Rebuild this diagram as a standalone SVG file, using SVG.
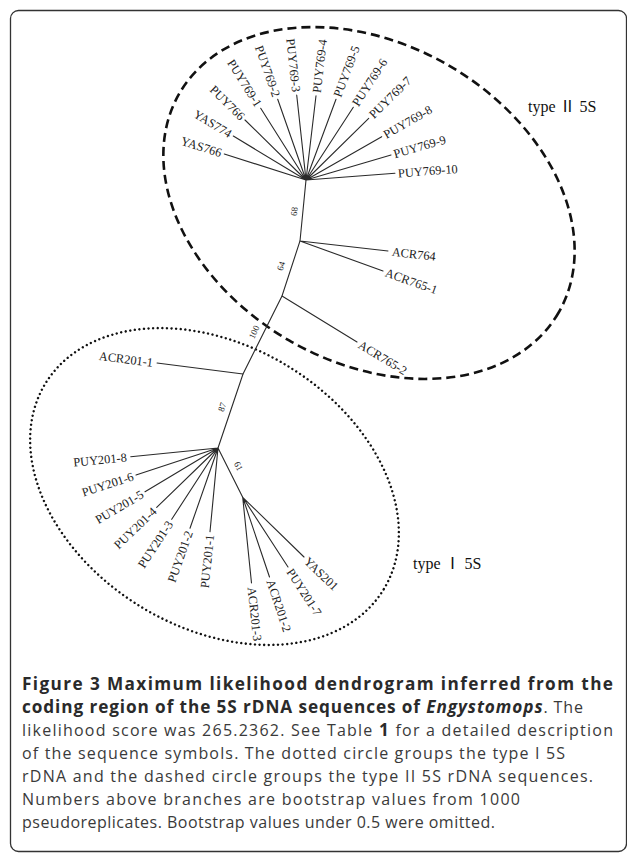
<svg xmlns="http://www.w3.org/2000/svg" width="627" height="853" viewBox="0 0 627 853">
<style>
.br{stroke:#2a2a2a;stroke-width:1.1;fill:none;stroke-linecap:round}
.lb{font-family:"Liberation Serif","Times New Roman",serif;font-size:12.4px;fill:#222}
.bs{font-family:"Liberation Serif","Times New Roman",serif;font-size:9px;fill:#222;text-anchor:middle}
.ty{font-family:"Liberation Serif","Noto Sans CJK SC",serif;font-size:16px;fill:#111}
.e{text-anchor:end}
.cap{font-family:"Open Sans","Liberation Sans",sans-serif;font-size:16px;fill:#3a3a3a}
.bold{font-weight:bold;fill:#2a2a2a;font-size:17.2px}
</style>
<rect x="10.5" y="10.5" width="616" height="841" rx="8" ry="8" fill="#fff" stroke="#333" stroke-width="1.3"/>
<g id="group-type-II">
<ellipse cx="369" cy="203" rx="219" ry="159" transform="rotate(30 369 203)" fill="none" stroke="#111" stroke-width="2.6" stroke-dasharray="9 5"/>
<text class="ty" x="528" y="112">type Ⅱ 5S</text>
</g>
<g id="group-type-I">
<ellipse cx="214.5" cy="486.5" rx="198" ry="141" transform="rotate(31.3 214.5 486.5)" fill="none" stroke="#111" stroke-width="2.4" stroke-dasharray="0 4.6" stroke-linecap="round"/>
<text class="ty" x="413" y="569">type Ⅰ 5S</text>
</g>
<g id="connectors" class="br">
<path d="M306,180 L224.3,154 M306,180 L233.3,136 M306,180 L245,120 M306,180 L260.7,108.3 M306,180 L277.7,99.3 M306,180 L296.7,95 M306,180 L316,95.7 M306,180 L336,99.3 M306,180 L353.3,107.3 M306,180 L368.7,118.3 M306,180 L381.7,136.7 M306,180 L391,155 M306,180 L395,173.3"/>
<path d="M306,180 L300,241 L282,296 L243,374 L218,448"/>
<path d="M300,241 L388,251 M300,241 L383,271 M282,296 L357,342 M243,374 L157,363"/>
<path d="M218,448 L130.7,456.7 M218,448 L136,475 M218,448 L145,491.7 M218,448 L156.7,507.3 M218,448 L171.7,519.3 M218,448 L190,528.3 M218,448 L210,531.7 M218,448 L242.7,497.3"/>
<path d="M242.7,497.3 L251.5,583 M242.7,497.3 L269.5,577 M242.7,497.3 L288,567 M242.7,497.3 L304,557"/>
</g>
<g id="bootstrap">
<text class="bs" transform="translate(294,211.5) rotate(-84)" dy="0.35em">68</text>
<text class="bs" transform="translate(281,266) rotate(-72)" dy="0.35em">64</text>
<text class="bs" transform="translate(254,332) rotate(-64)" dy="0.35em">100</text>
<text class="bs" transform="translate(222,407) rotate(-71)" dy="0.35em">87</text>
<text class="bs" transform="translate(238.5,466) rotate(63)" dy="0.35em">61</text>
</g>
<g id="YAS766"><text class="lb e" transform="translate(224.3,154) rotate(17.7)" x="-3" dy="0.35em">YAS766</text></g>
<g id="YAS774"><text class="lb e" transform="translate(233.3,136) rotate(31.2)" x="-3" dy="0.35em">YAS774</text></g>
<g id="PUY766"><text class="lb e" transform="translate(245,120) rotate(44.5)" x="-3" dy="0.35em">PUY766</text></g>
<g id="PUY769-1"><text class="lb e" transform="translate(260.7,108.3) rotate(57.7)" x="-3" dy="0.35em">PUY769-1</text></g>
<g id="PUY769-2"><text class="lb e" transform="translate(277.7,99.3) rotate(70.7)" x="-3" dy="0.35em">PUY769-2</text></g>
<g id="PUY769-3"><text class="lb e" transform="translate(296.7,95) rotate(83.8)" x="-3" dy="0.35em">PUY769-3</text></g>
<g id="PUY769-4"><text class="lb" transform="translate(316,95.7) rotate(-83.2)" x="3" dy="0.35em">PUY769-4</text></g>
<g id="PUY769-5"><text class="lb" transform="translate(336,99.3) rotate(-69.6)" x="3" dy="0.35em">PUY769-5</text></g>
<g id="PUY769-6"><text class="lb" transform="translate(353.3,107.3) rotate(-57)" x="3" dy="0.35em">PUY769-6</text></g>
<g id="PUY769-7"><text class="lb" transform="translate(368.7,118.3) rotate(-44.5)" x="3" dy="0.35em">PUY769-7</text></g>
<g id="PUY769-8"><text class="lb" transform="translate(381.7,136.7) rotate(-29.8)" x="3" dy="0.35em">PUY769-8</text></g>
<g id="PUY769-9"><text class="lb" transform="translate(391,155) rotate(-16.4)" x="3" dy="0.35em">PUY769-9</text></g>
<g id="PUY769-10"><text class="lb" transform="translate(395,173.3) rotate(-4.3)" x="3" dy="0.35em">PUY769-10</text></g>
<g id="ACR764"><text class="lb" transform="translate(388,251) rotate(6.5)" x="4" dy="0.35em">ACR764</text></g>
<g id="ACR765-1"><text class="lb" transform="translate(383,271) rotate(19.7)" x="3" dy="0.35em">ACR765-1</text></g>
<g id="ACR765-2"><text class="lb" transform="translate(357,342) rotate(31.1)" x="3" dy="0.35em">ACR765-2</text></g>
<g id="ACR201-1"><text class="lb e" transform="translate(157,363) rotate(7.3)" x="-4" dy="0.35em">ACR201-1</text></g>
<g id="PUY201-8"><text class="lb e" transform="translate(130.7,456.7) rotate(-5.5)" x="-4" dy="0.35em">PUY201-8</text></g>
<g id="PUY201-6"><text class="lb e" transform="translate(136,475) rotate(-18)" x="-3" dy="0.35em">PUY201-6</text></g>
<g id="PUY201-5"><text class="lb e" transform="translate(145,491.7) rotate(-30.6)" x="-3" dy="0.35em">PUY201-5</text></g>
<g id="PUY201-4"><text class="lb e" transform="translate(156.7,507.3) rotate(-43.8)" x="-3" dy="0.35em">PUY201-4</text></g>
<g id="PUY201-3"><text class="lb e" transform="translate(171.7,519.3) rotate(-56.7)" x="-3" dy="0.35em">PUY201-3</text></g>
<g id="PUY201-2"><text class="lb e" transform="translate(190,528.3) rotate(-70.5)" x="-3" dy="0.35em">PUY201-2</text></g>
<g id="PUY201-1"><text class="lb e" transform="translate(210,531.7) rotate(-84.3)" x="-3" dy="0.35em">PUY201-1</text></g>
<g id="ACR201-3"><text class="lb" transform="translate(251.5,583) rotate(84)" x="4" dy="0.35em">ACR201-3</text></g>
<g id="ACR201-2"><text class="lb" transform="translate(269.5,577) rotate(71.5)" x="3" dy="0.35em">ACR201-2</text></g>
<g id="PUY201-7"><text class="lb" transform="translate(288,567) rotate(57)" x="3" dy="0.35em">PUY201-7</text></g>
<g id="YAS201"><text class="lb" transform="translate(304,557) rotate(44)" x="3" dy="0.35em">YAS201</text></g>
<g id="caption" class="cap">
<text x="22" y="690" class="bold" textLength="591" lengthAdjust="spacing">Figure 3 Maximum likelihood dendrogram inferred from the</text>
<text x="22" y="713" textLength="561" lengthAdjust="spacing"><tspan class="bold">coding region of the 5S rDNA sequences of </tspan><tspan class="bold" font-style="italic">Engystomops</tspan>. The</text>
<text x="22" y="736" textLength="591" lengthAdjust="spacing">likelihood score was 265.2362. See Table <tspan class="bold" font-size="16px">1</tspan> for a detailed description</text>
<text x="22" y="759" textLength="543" lengthAdjust="spacing">of the sequence symbols. The dotted circle groups the type I 5S</text>
<text x="22" y="782" textLength="571" lengthAdjust="spacing">rDNA and the dashed circle groups the type II 5S rDNA sequences.</text>
<text x="22" y="805" textLength="498" lengthAdjust="spacing">Numbers above branches are bootstrap values from 1000</text>
<text x="22" y="828" textLength="473" lengthAdjust="spacing">pseudoreplicates. Bootstrap values under 0.5 were omitted.</text>
</g>
</svg>
